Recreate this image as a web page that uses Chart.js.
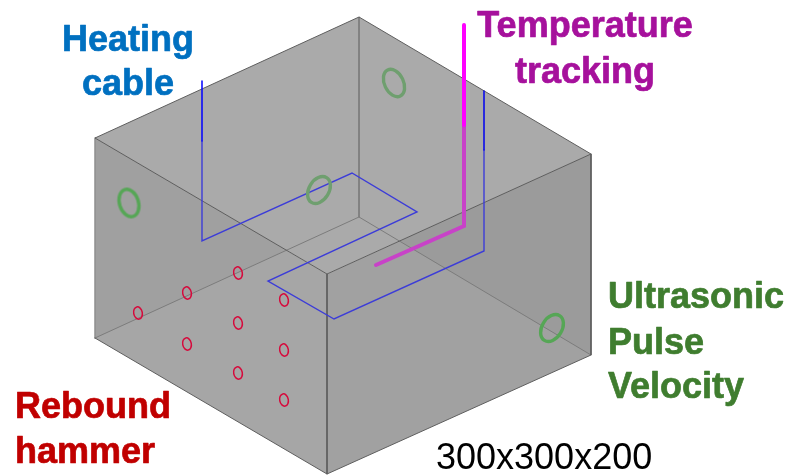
<!DOCTYPE html>
<html>
<head>
<meta charset="utf-8">
<style>
  html, body { margin: 0; padding: 0; background: #fff; }
  canvas { display: block; }
</style>
<script src="https://cdn.jsdelivr.net/npm/chart.js@4/dist/chart.umd.min.js"></script>
</head>
<body>
<canvas id="box" width="789" height="475"></canvas>
<script>
/* ── box outline, as x/y pairs ── */
const topUpper   = [[95,138],[359,17],[591,154]];
const topLower   = [[95,138],[327,274],[591,154]];
const leftUpper  = [[95,138],[327,274]];
const leftLower  = [[95,338],[327,474]];
const rightUpper = [[327,274],[591,154]];
const rightLower = [[327,474],[591,355]];
const leftShadeUpper  = [[95,138],[286.5,250]];
const leftShadeLower  = [[95,338],[286.5,250]];
const rightShadeUpper = [[399.4,241],[591,154]];
const rightShadeLower = [[399.4,241],[591,355]];

const backEdges = [
  [[359,17],[359,217]],
  [[359,217],[95,338]],
  [[359,217],[591,355]],
];
const frontEdges = [
  [[95,138],[359,17],[591,154],[591,355],[327,474],[95,338]],
  [[95,138],[327,274],[591,154]],
  [[327,274],[327,474]],
];
const sideEdge = [[95,138],[95,338]];

/* ── heating cable and temperature tracking ── */
const cableTopA = [[202,81],[202,141]];
const cableTopB = [[484,91],[484,150]];
const cablePath = [[202,141],[202,241],[352,173],[417,212],[268,281],[334,319],[484,251],[484,150]];
const trackTop  = [[464,25],[464,125]];
const trackPath = [[464,125],[464,226],[376,265]];

/* ── sensors ── */
const greenFront = [[129,203],[552,328]];
const greenBack  = [[319,190],[394,83]];
const hammerPts  = [[138,313],[187,293],[238,273],[187,344],[238,323],[284,300],[238,373],[284,350],[284,400]];

/* ── text ── */
const heatingLabel = ['Heating', 'cable'];
const trackLabel   = ['Temperature', 'tracking'];
const upvLabel     = ['Ultrasonic', 'Pulse', 'Velocity'];
const hammerLabel  = ['Rebound', 'hammer'];
const sizeLabel    = ['300x300x200'];

const xy = pts => pts.map(p => ({ x: p[0], y: p[1] }));

function ring(rx, ry, lw, color, tilt) {
  const size = Math.ceil(2 * Math.max(rx, ry) + 2 * lw + 2);
  const c = document.createElement('canvas');
  c.width = c.height = size;
  const g = c.getContext('2d');
  g.strokeStyle = color;
  g.lineWidth = lw;
  g.beginPath();
  g.ellipse(size / 2, size / 2, rx, ry, tilt, 0, Math.PI * 2);
  g.stroke();
  return c;
}

const datasets = [];

function line(pts, color, width) {
  datasets.push({
    data: xy(pts), showLine: true, borderColor: color, borderWidth: width,
    pointRadius: 0, fill: false, tension: 0, borderCapStyle: 'round', borderJoinStyle: 'miter',
  });
}

function face(upper, lower, color) {
  datasets.push({ data: xy(lower), showLine: true, borderWidth: 0, pointRadius: 0, fill: false });
  datasets.push({
    data: xy(upper), showLine: true, borderWidth: 0, pointRadius: 0,
    backgroundColor: color, fill: { target: datasets.length - 1 },
  });
}

function rings(pts, style) {
  datasets.push({ data: xy(pts), showLine: false, pointRadius: 4, pointStyle: style, clip: false });
}

/* painted back to front */
face(leftUpper, leftLower, '#a6a6a6');
face(rightUpper, rightLower, '#a1a1a1');
face(topUpper, topLower, '#aaaaaa');
face(leftShadeUpper, leftShadeLower, '#a0a0a0');
face(rightShadeUpper, rightShadeLower, '#9b9b9b');

line(sideEdge, '#8f8f8f', 1.5);
backEdges.forEach(e => line(e, '#7c7c7c', 1));
frontEdges.forEach(e => line(e, '#5e5e5e', 1));

line(cablePath, '#3c3cd8', 1.4);
line(cableTopA, '#0000ff', 1.5);
line(cableTopB, '#0000f0', 1.5);
line(trackPath, '#c842c8', 4);
line(trackTop, '#ff00ff', 4);

rings([greenFront[0]], ring(9.5, 14, 3.4, '#56a656', -0.3));
rings([greenFront[1]], ring(10, 14.5, 3.4, '#56a656', 0.55));
rings([greenBack[0]], ring(10, 14.5, 3.4, '#6f9f6f', 0.55));
rings([greenBack[1]], ring(9.5, 14.5, 3.4, '#6f9f6f', -0.45));
rings(hammerPts, ring(4.3, 6.2, 1.5, '#d60a3c', -0.2));

datasets.forEach((d, i) => { d.order = -i; });

const textPlugin = {
  id: 'boxText',
  afterDatasetsDraw(chart) {
    const { ctx, scales: { x, y } } = chart;
    const put = (lines, px, ys, align, font, color, thicken) => {
      ctx.save();
      ctx.font = font;
      ctx.fillStyle = color;
      ctx.strokeStyle = color;
      ctx.lineWidth = thicken;
      ctx.lineJoin = 'round';
      ctx.textAlign = align;
      ctx.textBaseline = 'alphabetic';
      lines.forEach((t, i) => {
        const tx = x.getPixelForValue(px), ty = y.getPixelForValue(ys[i]);
        ctx.fillText(t, tx, ty);
        if (thicken) ctx.strokeText(t, tx, ty);
      });
      ctx.restore();
    };
    const bold = 'bold 36px "Liberation Sans", Arial, sans-serif';
    put(heatingLabel, 128, [51, 94.5], 'center', bold, '#0070c0', 0.7);
    put(trackLabel, 585, [37, 83], 'center', bold, '#a6119c', 0.7);
    put(upvLabel, 608, [308, 354, 398], 'left', bold, '#3f7d2f', 0.7);
    put(hammerLabel, 15, [418, 462.5], 'left', bold, '#c00000', 0.7);
    put(sizeLabel, 436, [469], 'left', '36px "Liberation Sans", Arial, sans-serif', '#000', 0);
  }
};

new Chart(document.getElementById('box'), {
  type: 'scatter',
  data: { datasets },
  options: {
    responsive: false,
    animation: false,
    events: [],
    layout: { padding: 0, autoPadding: false },
    plugins: { legend: { display: false }, tooltip: { enabled: false } },
    scales: {
      x: { type: 'linear', display: false, min: 0, max: 789 },
      y: { type: 'linear', display: false, min: 0, max: 475, reverse: true },
    },
  },
  plugins: [textPlugin],
});
</script>
</body>
</html>
